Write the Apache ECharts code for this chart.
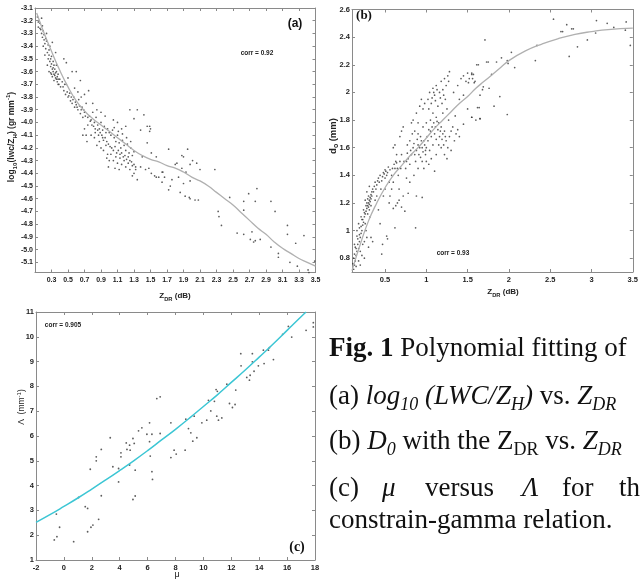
<!DOCTYPE html>
<html><head><meta charset="utf-8">
<script src="https://cdn.jsdelivr.net/npm/echarts@6/dist/echarts.min.js"></script>
<style>html,body{margin:0;padding:0;background:#fff}#c{width:641px;height:583px}</style>
</head><body><div id="c"></div>
<script>
// ---------- (a) log10(lwc/ZH) vs ZDR ----------
const aXTicks = [0.3,0.5,0.7,0.9,1.1,1.3,1.5,1.7,1.9,2.1,2.3,2.5,2.7,2.9,3.1,3.3,3.5];
const aYTicks = [-3.1,-3.2,-3.3,-3.4,-3.5,-3.6,-3.7,-3.8,-3.9,-4.0,-4.1,-4.2,-4.3,-4.4,-4.5,-4.6,-4.7,-4.8,-4.9,-5.0,-5.1];
const aFit = [[0.12,-3.14],[0.2,-3.28],[0.3,-3.44],[0.4,-3.59],[0.5,-3.72],[0.6,-3.83],[0.7,-3.91],[0.8,-3.97],[0.9,-4.02],[1.0,-4.07],[1.1,-4.12],[1.2,-4.17],[1.3,-4.22],[1.4,-4.26],[1.5,-4.29],[1.6,-4.31],[1.7,-4.34],[1.8,-4.36],[1.9,-4.39],[2.0,-4.43],[2.1,-4.46],[2.2,-4.5],[2.3,-4.55],[2.4,-4.6],[2.5,-4.65],[2.6,-4.71],[2.7,-4.77],[2.8,-4.83],[2.9,-4.88],[3.0,-4.94],[3.1,-4.99],[3.2,-5.03],[3.3,-5.07],[3.4,-5.1],[3.5,-5.13]];
const aPoints = [
[0.13,-3.17],[0.15,-3.2],[0.16,-3.22],[0.14,-3.25],[0.17,-3.27],[0.18,-3.3],[0.2,-3.28],[0.19,-3.33],[0.21,-3.35],[0.22,-3.38],[0.2,-3.4],[0.23,-3.42],[0.24,-3.36],[0.25,-3.45],[0.22,-3.47],[0.26,-3.5],[0.27,-3.43],[0.28,-3.52],[0.25,-3.55],[0.29,-3.56],[0.3,-3.48],[0.31,-3.58],[0.32,-3.6],[0.33,-3.55],[0.3,-3.62],[0.34,-3.63],[0.35,-3.65],[0.36,-3.6],[0.33,-3.67],[0.37,-3.68],[0.28,-3.4],[0.31,-3.37],[0.35,-3.45],[0.18,-3.18],[0.24,-3.3],[0.27,-3.6],[0.32,-3.52],[0.36,-3.55],[0.38,-3.62],[0.39,-3.7],
[0.14,-3.21],[0.16,-3.26],[0.19,-3.24],[0.21,-3.31],[0.23,-3.34],[0.26,-3.39],[0.27,-3.47],[0.29,-3.5],[0.3,-3.54],[0.32,-3.57],[0.34,-3.58],[0.35,-3.61],[0.37,-3.64],[0.38,-3.66],[0.4,-3.66],[0.29,-3.61],[0.31,-3.64],[0.33,-3.62],[0.36,-3.66],[0.38,-3.7],
[0.41,-3.72],[0.43,-3.68],[0.45,-3.75],[0.47,-3.78],[0.48,-3.7],[0.5,-3.8],[0.52,-3.77],[0.53,-3.83],[0.55,-3.85],[0.57,-3.8],[0.58,-3.88],[0.6,-3.86],[0.62,-3.9],[0.63,-3.82],[0.65,-3.93],[0.67,-3.88],[0.68,-3.96],[0.7,-3.92],[0.45,-3.5],[0.48,-3.53],[0.55,-3.6],[0.6,-3.6],[0.65,-3.67],[0.58,-3.73],[0.62,-3.76],[0.7,-3.78],[0.75,-3.75],[0.72,-3.85],[0.5,-3.65],[0.66,-3.8],[0.7,-4.05],[0.68,-4.1],[0.72,-4.1],[0.73,-4.15],[0.74,-4.02],
[0.44,-3.72],[0.46,-3.7],[0.49,-3.76],[0.51,-3.79],[0.54,-3.8],[0.56,-3.82],[0.59,-3.84],[0.61,-3.88],[0.64,-3.87],[0.66,-3.9],[0.69,-3.9],[0.71,-3.95],[0.74,-3.96],[0.77,-3.99],[0.79,-4.02],
[0.76,-3.95],[0.78,-3.98],[0.8,-3.92],[0.82,-4.0],[0.84,-3.96],[0.86,-4.02],[0.88,-4.05],[0.9,-4.0],[0.92,-4.06],[0.94,-4.03],[0.96,-4.08],[0.98,-4.05],[0.8,-3.85],[0.85,-3.9],[0.9,-3.92],[0.95,-3.95],[0.78,-4.1],[0.82,-4.12],[0.85,-4.18],[0.88,-4.15],[0.9,-4.2],[0.93,-4.22],[0.96,-4.18],[0.98,-4.25],[0.83,-4.08],[0.87,-4.1],[0.92,-4.12],[0.97,-4.28],[1.0,-4.3],
[0.81,-4.03],[0.83,-4.05],[0.86,-4.06],[0.89,-4.08],[0.91,-4.1],[0.93,-4.14],[0.95,-4.12],[0.97,-4.15],[0.99,-4.17],[1.01,-4.19],[1.03,-4.2],[1.05,-4.22],[1.07,-4.19],[1.09,-4.24],[1.11,-4.22],[1.13,-4.25],[1.15,-4.24],[1.17,-4.27],[1.19,-4.26],[1.21,-4.29],[1.23,-4.27],[1.25,-4.3],[1.27,-4.31],[1.06,-4.04],[1.11,-4.07],[1.16,-4.09],[1.21,-4.12],[1.26,-4.15],[0.99,-4.35],[1.07,-4.36],
[1.0,-4.08],[1.02,-4.1],[1.04,-4.06],[1.06,-4.12],[1.08,-4.15],[1.1,-4.1],[1.12,-4.16],[1.14,-4.2],[1.16,-4.14],[1.18,-4.18],[1.2,-4.22],[1.22,-4.17],[1.24,-4.24],[1.26,-4.2],[1.28,-4.26],[1.3,-4.23],[1.02,-4.25],[1.05,-4.3],[1.08,-4.27],[1.1,-4.32],[1.13,-4.28],[1.15,-4.33],[1.18,-4.3],[1.2,-4.35],[1.23,-4.32],[1.25,-4.37],[1.28,-4.34],[1.3,-4.4],[1.05,-3.98],[1.1,-4.0],[1.15,-4.05],[1.2,-4.03],[1.25,-3.9],[1.3,-3.97],[1.32,-4.35],[1.34,-4.45],[1.28,-4.42],[1.12,-4.37],
[1.42,-3.94],[1.46,-4.03],[1.5,-4.05],[1.34,-3.9],[1.38,-4.06],[1.46,-4.16],[1.4,-4.27],[1.3,-4.33],[1.32,-4.37],[1.38,-4.35],[1.44,-4.37],[1.48,-4.36],
[1.51,-4.24],[1.57,-4.27],[1.51,-4.4],[1.55,-4.42],[1.57,-4.43],[1.6,-4.43],[1.64,-4.39],[1.64,-4.47],[1.65,-4.39],[1.67,-4.43],[1.72,-4.53],[1.74,-4.5],[1.76,-4.45],[1.8,-4.33],[1.82,-4.32],[1.84,-4.43],[1.86,-4.55],[1.88,-4.36],[1.9,-4.48],[1.93,-4.39],[1.92,-4.58],[1.97,-4.59],[1.98,-4.6],[1.98,-4.46],[2.04,-4.61],[2.08,-4.61],[1.98,-4.33],[1.72,-4.21],[1.95,-4.21],[1.88,-4.26],[1.9,-4.27],[2.01,-4.3],[2.06,-4.32],[2.1,-4.37],[2.28,-4.37],[1.49,-4.03],[1.49,-4.07],
[2.46,-4.59],[2.32,-4.7],[2.33,-4.74],[2.36,-4.81],[2.55,-4.87],[2.63,-4.88],[2.63,-4.62],[2.69,-4.56],[2.63,-4.69],[2.71,-4.92],[2.73,-4.86],[2.75,-4.94],[2.77,-4.93],[2.79,-4.52],[2.77,-4.62],[2.83,-4.92],[2.96,-4.62],[3.01,-4.7],[2.96,-4.98],[3.05,-5.03],[3.05,-5.06],[3.16,-4.81],[3.16,-4.88],[3.19,-5.1],[3.26,-4.95],[3.28,-5.13],[3.36,-4.89],[3.41,-5.16],[3.42,-5.18],[3.49,-5.09]
];
// ---------- (b) d0 vs ZDR ----------
const bXTicks = [0.5,1,1.5,2,2.5,3,3.5];
const bYTicks = [0.8,1,1.2,1.4,1.6,1.8,2,2.2,2.4,2.6];
const bFit = [[0.1,0.71],[0.2,0.9],[0.3,1.07],[0.4,1.2],[0.5,1.31],[0.6,1.4],[0.7,1.47],[0.8,1.54],[0.9,1.6],[1.0,1.67],[1.1,1.74],[1.2,1.8],[1.3,1.86],[1.4,1.92],[1.5,1.97],[1.6,2.03],[1.7,2.08],[1.8,2.13],[1.9,2.18],[2.0,2.23],[2.2,2.3],[2.4,2.35],[2.6,2.39],[2.8,2.42],[3.0,2.44],[3.2,2.455],[3.5,2.465]];
const bPoints = [
[0.12,0.72],[0.13,0.75],[0.14,0.78],[0.12,0.8],[0.15,0.82],[0.16,0.85],[0.14,0.88],[0.17,0.9],[0.18,0.87],[0.19,0.92],[0.2,0.95],[0.16,0.96],[0.21,0.98],[0.22,1.0],[0.19,1.02],[0.23,1.04],[0.24,1.06],[0.22,1.08],[0.25,1.1],[0.26,1.12],[0.27,1.14],[0.28,1.16],[0.29,1.18],[0.3,1.2],[0.31,1.22],[0.32,1.24],[0.33,1.26],[0.3,1.25],[0.28,1.2],[0.29,1.12],[0.31,1.15],[0.32,1.1],[0.33,1.18],[0.34,1.28],[0.35,1.3],[0.26,1.05],[0.27,1.0],[0.2,0.85],[0.23,0.9],[0.25,0.92],[0.28,0.95],[0.15,0.74],[0.18,0.78],[0.22,0.82],[0.13,0.9],[0.16,1.0],[0.18,1.05],[0.21,1.1],[0.24,1.15],[0.26,1.22],[0.28,1.28],[0.31,1.32],[0.33,0.95],[0.35,0.92],[0.3,0.88],[0.2,0.75],[0.25,0.8],
[0.11,0.76],[0.13,0.83],[0.15,0.87],[0.17,0.94],[0.19,0.97],[0.21,1.03],[0.23,1.08],[0.25,1.13],[0.27,1.18],[0.29,1.23],[0.3,1.17],[0.31,1.19],[0.32,1.21],[0.33,1.23],[0.34,1.25],[0.36,1.28],[0.39,1.3],[0.41,1.36],[0.43,1.35],[0.47,1.39],[0.49,1.41],[0.51,1.43],[0.53,1.42],[0.56,1.44],[0.59,1.45],[0.61,1.48],[0.64,1.49],[0.69,1.45],[0.73,1.5],[0.77,1.56],
[0.37,1.32],[0.38,1.35],[0.4,1.33],[0.42,1.38],[0.44,1.4],[0.46,1.36],[0.48,1.42],[0.5,1.44],[0.52,1.4],[0.54,1.46],[0.5,1.38],[0.45,1.3],[0.4,1.25],[0.38,1.22],[0.42,1.15],[0.44,1.05],[0.47,0.9],[0.46,0.83],[0.52,0.96],[0.53,0.94],[0.55,1.2],[0.56,1.25],[0.58,1.3],[0.6,1.35],[0.62,1.45],[0.63,1.5],[0.6,1.6],[0.62,1.62],[0.64,1.55],[0.65,1.45],[0.66,1.4],[0.68,1.5],[0.7,1.55],[0.62,1.02],[0.6,1.16],[0.63,1.18],[0.65,1.2],[0.67,1.22],[0.7,1.17],[0.72,1.25],[0.74,1.14],[0.68,1.68],[0.7,1.72],[0.72,1.75],[0.67,1.3],[0.58,1.4],[0.55,1.35],[0.5,1.3],[0.48,1.25],
[0.75,1.45],[0.76,1.5],[0.78,1.52],[0.8,1.48],[0.82,1.55],[0.84,1.6],[0.86,1.55],[0.88,1.58],[0.9,1.62],[0.92,1.6],[0.94,1.65],[0.96,1.57],[0.98,1.62],[0.8,1.65],[0.82,1.78],[0.84,1.8],[0.86,1.72],[0.88,1.85],[0.9,1.78],[0.92,1.9],[0.94,1.95],[0.96,1.88],[0.98,1.92],[0.8,1.35],[0.78,1.27],[0.87,1.02],[0.88,1.25],[0.95,1.24],[0.85,1.4],[0.9,1.45],[0.95,1.5],[0.97,1.45],[0.99,1.55],[1.0,1.5],[0.77,1.62],[0.83,1.7],[0.9,1.7],[0.96,1.75],[0.93,1.53],[0.76,1.38],
[0.81,1.58],[0.85,1.63],[0.89,1.66],[0.93,1.68],[0.97,1.65],[1.01,1.68],[1.03,1.73],[1.07,1.75],[1.09,1.78],[1.11,1.75],[1.13,1.79],[1.17,1.72],[1.19,1.66],[1.21,1.62],[1.23,1.68],[1.03,1.88],[1.07,1.96],[1.09,2.0],[1.11,1.94],[1.13,2.02],[1.17,1.96],[1.19,1.92],[1.21,1.98],[1.23,1.95],[1.27,2.08],[0.87,1.5],[0.91,1.55],[0.95,1.6],[0.99,1.58],
[1.0,1.6],[1.02,1.65],[1.04,1.58],[1.06,1.68],[1.08,1.62],[1.1,1.7],[1.12,1.66],[1.14,1.73],[1.16,1.68],[1.18,1.75],[1.2,1.7],[1.22,1.72],[1.24,1.65],[1.26,1.6],[1.02,1.95],[1.04,2.0],[1.06,1.92],[1.08,2.03],[1.1,1.98],[1.12,2.05],[1.14,1.9],[1.16,2.0],[1.18,2.08],[1.2,2.02],[1.22,2.1],[1.24,2.05],[1.26,2.12],[1.28,2.15],[1.05,1.8],[1.08,1.85],[1.12,1.82],[1.15,1.78],[1.2,1.85],[1.25,1.88],[1.03,1.48],[1.06,1.52],[1.1,1.43],[1.12,1.55],[1.18,1.6],[1.22,1.55],[1.25,1.52],[1.28,1.68],[1.3,1.72],[1.3,1.58],[1.27,1.8],[1.05,1.72],[1.15,1.62],[1.0,1.78],
[1.32,1.75],[1.34,1.65],[1.36,1.7],[1.38,1.73],[1.4,1.68],[1.35,1.83],[1.33,2.0],[1.38,2.05],[1.42,2.1],[1.45,2.12],[1.48,2.08],[1.5,2.14],[1.52,2.1],[1.55,2.13],[1.58,2.07],[1.45,1.98],[1.5,1.88],[1.55,1.82],[1.6,1.8],[1.62,1.89],[1.45,1.77],[1.65,1.81],[1.68,2.02],[1.4,1.95],
[1.71,2.38],[1.61,2.2],[1.63,2.2],[1.73,2.22],[1.75,2.22],[1.85,2.22],[1.91,2.25],[2.03,2.29],[1.98,2.23],[1.99,2.21],[2.07,2.18],[2.32,2.23],[2.34,2.34],[2.54,2.53],[2.7,2.49],[2.63,2.44],[2.65,2.44],[2.76,2.46],[2.78,2.46],[2.83,2.33],[2.73,2.26],[2.95,2.38],[3.05,2.43],[3.06,2.52],[3.19,2.5],[3.27,2.47],[3.42,2.51],[3.41,2.45],[3.47,2.34],[1.55,2.14],[1.57,2.13],[1.56,2.1],[1.51,2.07],[1.59,2.08],[1.79,2.13],[1.69,2.04],[1.76,2.03],[1.65,1.98],[1.89,1.97],[1.82,1.9],[1.64,1.89],[1.55,1.82],[1.65,1.81],[1.98,1.84]
];
// ---------- (c) Lambda vs mu ----------
const cXTicks = [-2,0,2,4,6,8,10,12,14,16,18];
const cYTicks = [1,2,3,4,5,6,7,8,9,10,11];
const cFit = [[-2,2.52],[-1,2.83],[0,3.16],[1,3.5],[2,3.86],[3,4.23],[4,4.61],[5,5.0],[6,5.41],[7,5.84],[8,6.27],[9,6.72],[10,7.19],[11,7.66],[12,8.16],[13,8.66],[14,9.18],[15,9.71],[16,10.26],[17,10.81],[17.36,11.0]];
const cPoints = [
[-0.69,1.81],[-0.5,1.94],[-0.54,2.85],[-0.31,2.32],[0.7,1.74],[1.05,3.52],[1.53,3.15],[1.7,3.08],[1.7,2.14],[1.94,2.32],[2.08,2.41],[2.49,2.64],[1.89,4.66],[2.32,5.16],[2.32,5.0],[2.68,5.46],[2.68,3.59],[3.32,5.93],[3.51,4.76],[3.92,4.69],[3.92,4.15],[4.09,5.32],[4.09,5.16],[4.47,5.72],[4.52,5.46],[4.71,5.63],[4.75,5.43],[4.71,4.83],[4.95,5.9],[5.04,5.7],[4.95,3.44],[5.11,3.58],[5.11,4.62],[5.35,6.21],[5.59,6.33],[5.95,6.07],[6.14,5.77],[6.14,6.53],[6.19,5.19],[6.31,4.56],[6.35,4.25],[6.31,6.07],[6.66,7.51],[6.9,7.58],[6.9,6.1],[7.67,6.53],[7.67,5.13],[7.9,5.43],[8.05,5.27],[8.69,5.43],[8.74,6.68],[8.93,6.3],[9.1,6.13],[9.24,5.79],[9.34,6.8],[9.53,5.93],[9.89,6.53],[10.24,6.64],[10.36,7.44],[10.53,7.01],[10.79,7.4],[10.91,7.87],[11.0,7.8],[10.96,6.8],[11.08,6.64],[11.32,6.73],[11.68,8.09],[11.87,7.31],[12.08,7.15],[12.27,7.27],[12.32,7.85],[12.68,9.32],[12.7,8.83],[13.11,8.36],[13.3,8.25],[13.35,8.45],[13.51,9.32],[13.51,8.99],[13.63,8.61],[13.94,8.83],[14.3,9.46],[14.35,8.92],[14.66,9.46],[14.73,9.56],[15.02,9.08],[15.68,10.1],[16.09,10.42],[16.33,9.99],[17.36,10.26],[17.88,10.57],[17.88,10.4]
];

const SANS = 'Liberation Sans, Arial, sans-serif';
const SERIF = 'Liberation Serif, Times New Roman, serif';
const FRAME = '#8a8a8a';
const fmt = v => String(+(+v).toFixed(1));
const fmtA = v => (+v).toFixed(1);

function xPair(grid, min, max, ticks, formatter, lblSize, weight) {
  return [
    {gridIndex:grid, type:'value', position:'bottom', min, max,
     axisLine:{show:true, onZero:false, lineStyle:{color:FRAME, width:1}},
     axisTick:{show:true, inside:true, length:3, customValues:ticks, lineStyle:{color:FRAME}},
     axisLabel:{show:true, customValues:ticks, formatter, fontSize:lblSize, fontWeight:weight, fontFamily:SANS, color:'#222', margin:4},
     splitLine:{show:false}},
    {gridIndex:grid, type:'value', position:'top', min, max,
     axisLine:{show:true, onZero:false, lineStyle:{color:FRAME, width:1}},
     axisTick:{show:true, inside:true, length:3, customValues:ticks, lineStyle:{color:FRAME}},
     axisLabel:{show:false}, splitLine:{show:false}}
  ];
}
function yPair(grid, min, max, ticks, formatter, lblSize, weight) {
  return [
    {gridIndex:grid, type:'value', position:'left', min, max,
     axisLine:{show:true, onZero:false, lineStyle:{color:FRAME, width:1}},
     axisTick:{show:true, inside:true, length:3, customValues:ticks, lineStyle:{color:FRAME}},
     axisLabel:{show:true, customValues:ticks, formatter, fontSize:lblSize, fontWeight:weight, fontFamily:SANS, color:'#222', margin:2},
     splitLine:{show:false}},
    {gridIndex:grid, type:'value', position:'right', min, max,
     axisLine:{show:true, onZero:false, lineStyle:{color:FRAME, width:1}},
     axisTick:{show:true, inside:true, length:3, customValues:ticks, lineStyle:{color:FRAME}},
     axisLabel:{show:false}, splitLine:{show:false}}
  ];
}

const chart = echarts.init(document.getElementById('c'), null, {renderer:'canvas'});

function capText(x, y, text, rich) {
  return {type:'text', x, y, silent:true,
    style:{text, fontFamily:SERIF, fontSize:27, fill:'#111', align:'left', verticalAlign:'middle', lineHeight:34, rich}};
}
const capRich = {
  b:{fontWeight:'bold', fontSize:27, fontFamily:SERIF, lineHeight:34},
  n:{fontSize:27, fontFamily:SERIF, lineHeight:34},
  i:{fontStyle:'italic', fontSize:27, fontFamily:SERIF, lineHeight:34},
  si:{fontStyle:'italic', fontSize:18, fontFamily:SERIF, lineHeight:17, verticalAlign:'bottom'},
  sn:{fontSize:18, fontFamily:SERIF, lineHeight:17, verticalAlign:'bottom'}
};
const smallRich = (fs) => ({
  n:{fontSize:fs, fontFamily:SANS, fontWeight:'bold', lineHeight:fs+4},
  s:{fontSize:fs*0.72, fontFamily:SANS, fontWeight:'bold', lineHeight:fs*0.6, verticalAlign:'bottom'},
  p:{fontSize:fs*0.72, fontFamily:SANS, fontWeight:'bold', lineHeight:fs*0.6, verticalAlign:'top'}
});

const option = {
  backgroundColor:'#ffffff',
  animation:false,
  grid:[
    {left:35, top:8, width:280.5, height:264.5},
    {left:352, top:9.5, width:284, height:262.5},
    {left:36, top:312, width:279, height:248}
  ],
  xAxis:[].concat(
    xPair(0, 0.1, 3.5, aXTicks, fmtA, 7, 'bold'),
    xPair(1, 0.1, 3.5, bXTicks, fmt, 7.5, 'bold'),
    xPair(2, -2, 18, cXTicks, fmt, 7.5, 'bold')
  ),
  yAxis:[].concat(
    yPair(0, -5.18, -3.1, aYTicks, fmtA, 7, 'bold'),
    yPair(1, 0.7, 2.6, bYTicks, fmt, 7.5, 'bold'),
    yPair(2, 1, 11, cYTicks, fmt, 7.5, 'bold')
  ),
  series:[
    {type:'scatter', name:'a points', xAxisIndex:0, yAxisIndex:0, data:aPoints, symbol:'circle', symbolSize:1.7, itemStyle:{color:'#333'}, silent:true},
    {type:'line', name:'a fit', xAxisIndex:0, yAxisIndex:0, data:aFit, showSymbol:false, smooth:true, lineStyle:{color:'#b0b0b0', width:1.3}, silent:true},
    {type:'scatter', name:'b points', xAxisIndex:2, yAxisIndex:2, data:bPoints, symbol:'circle', symbolSize:1.7, itemStyle:{color:'#333'}, silent:true},
    {type:'line', name:'b fit', xAxisIndex:2, yAxisIndex:2, data:bFit, showSymbol:false, smooth:true, lineStyle:{color:'#b0b0b0', width:1.3}, silent:true},
    {type:'scatter', name:'c points', xAxisIndex:4, yAxisIndex:4, data:cPoints, symbol:'circle', symbolSize:1.8, itemStyle:{color:'#333'}, silent:true},
    {type:'line', name:'c fit', xAxisIndex:4, yAxisIndex:4, data:cFit, showSymbol:false, smooth:true, lineStyle:{color:'#3cc6d4', width:1.5}, silent:true}
  ],
  graphic:[
    {type:'text', x:295, y:24, silent:true, style:{text:'(a)', fontFamily:SANS, fontSize:12, fontWeight:'bold', fill:'#111', align:'center', verticalAlign:'middle'}},
    {type:'text', x:364, y:16, silent:true, style:{text:'(b)', fontFamily:SERIF, fontSize:13, fontWeight:'bold', fill:'#111', align:'center', verticalAlign:'middle'}},
    {type:'text', x:297, y:547, silent:true, style:{text:'(c)', fontFamily:SERIF, fontSize:14, fontWeight:'bold', fill:'#111', align:'center', verticalAlign:'middle'}},
    {type:'text', x:257, y:53, silent:true, style:{text:'corr = 0.92', fontFamily:SANS, fontSize:6.5, fontWeight:'bold', fill:'#222', align:'center', verticalAlign:'middle'}},
    {type:'text', x:453, y:253, silent:true, style:{text:'corr = 0.93', fontFamily:SANS, fontSize:6.5, fontWeight:'bold', fill:'#222', align:'center', verticalAlign:'middle'}},
    {type:'text', x:63, y:325, silent:true, style:{text:'corr = 0.905', fontFamily:SANS, fontSize:6.5, fontWeight:'bold', fill:'#222', align:'center', verticalAlign:'middle'}},
    {type:'text', x:175, y:296, silent:true, style:{text:'{n|Z}{s|DR}{n| (dB)}', align:'center', verticalAlign:'middle', fill:'#222', rich:smallRich(8)}},
    {type:'text', x:503, y:292, silent:true, style:{text:'{n|Z}{s|DR}{n| (dB)}', align:'center', verticalAlign:'middle', fill:'#222', rich:smallRich(8)}},
    {type:'text', x:12, y:137, rotation:Math.PI/2, silent:true, style:{text:'{n|log}{s|10}{n|(lwc/Z}{s|H}{n|) (gr mm}{p|-1}{n|)}', align:'center', verticalAlign:'middle', fill:'#222', rich:smallRich(8.5)}},
    {type:'text', x:333, y:136, rotation:Math.PI/2, silent:true, style:{text:'{n|d}{s|o}{n| (mm)}', align:'center', verticalAlign:'middle', fill:'#222', rich:smallRich(9.5)}},
    {type:'text', x:22, y:407, rotation:Math.PI/2, silent:true, style:{text:'{n|Λ  (mm}{p|-1}{n|)}', align:'center', verticalAlign:'middle', fill:'#222', rich:{
      n:{fontSize:8.5, fontFamily:SANS, lineHeight:12}, p:{fontSize:6, fontFamily:SANS, lineHeight:6, verticalAlign:'top'}}}},
    {type:'text', x:177, y:575, silent:true, style:{text:'μ', fontFamily:SANS, fontSize:9, fill:'#222', align:'center', verticalAlign:'middle'}},
    capText(329, 349, '{b|Fig. 1} {n|Polynomial fitting of}', capRich),
    capText(329, 397, '{n|(a) }{i|log}{si|10}{i| (LWC/Z}{si|H}{i|)}{n| vs. }{i|Z}{si|DR}', capRich),
    capText(329, 442, '{n|(b) }{i|D}{si|0}{n| with the Z}{sn|DR}{n| vs. }{i|Z}{si|DR}', capRich),
    capText(329, 489, '{n|(c)}', capRich),
    capText(382, 489, '{i|μ}', capRich),
    capText(425, 489, '{n|versus}', capRich),
    capText(522, 489, '{i|Λ}', capRich),
    capText(562, 489, '{n|for}', capRich),
    capText(619, 489, '{n|the}', capRich),
    capText(329, 521, '{n|constrain-gamma relation.}', capRich)
  ]
};
chart.setOption(option);
</script>
</body></html>
